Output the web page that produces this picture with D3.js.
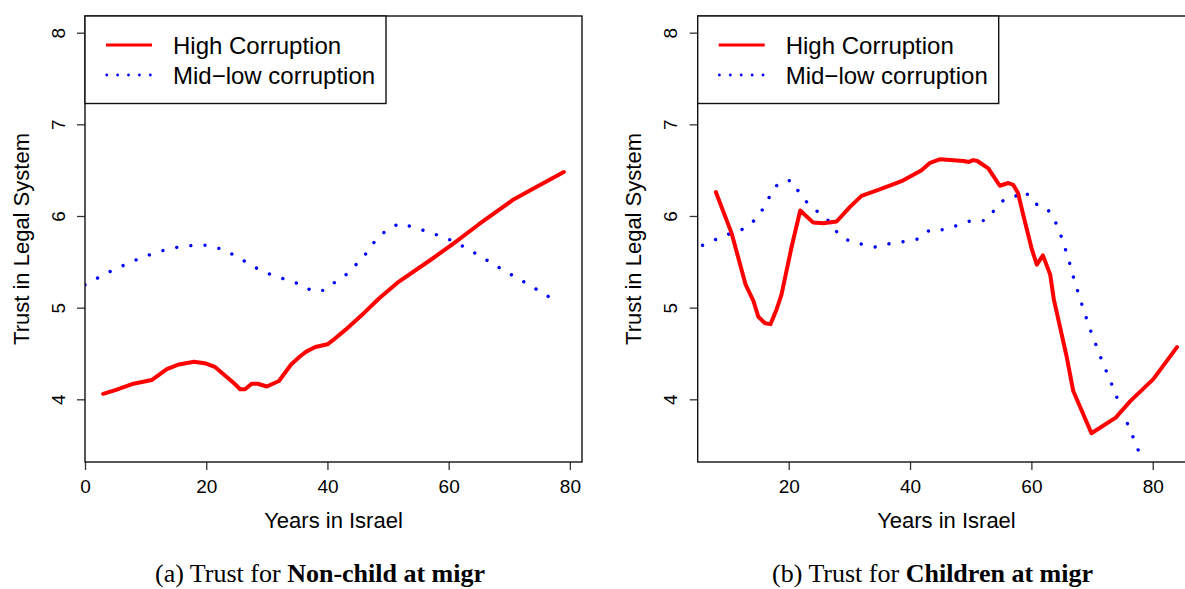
<!DOCTYPE html>
<html>
<head>
<meta charset="utf-8">
<script src="https://cdn.jsdelivr.net/npm/d3@7"></script>
<style>
  html, body { margin: 0; padding: 0; background: #fff; }
  svg { display: block; }
</style>
</head>
<body>
<svg id="chart" width="1185" height="589"></svg>
<script>
// ---- Data ----
const seriesNames = ["High Corruption", "Mid\u2212low corruption"];
const xTicksA = [0, 20, 40, 60, 80];
const xTicksB = [20, 40, 60, 80];
const yTicks = [4, 5, 6, 7, 8];

// Panel (a): Non-child at migration
const aHighX = [3, 5, 8, 11, 13.5, 15.5, 18, 20, 21.5, 24.5, 25.6, 26.4, 27.5, 28.5, 30, 32, 34, 35.5, 36.5, 38, 40, 41, 43, 46, 48.5, 51.5, 57, 61, 65, 70.7, 74, 79];
const aHighY = [4.06, 4.10, 4.17, 4.21, 4.33, 4.38, 4.41, 4.39, 4.35, 4.18, 4.11, 4.11, 4.17, 4.17, 4.14, 4.20, 4.38, 4.47, 4.52, 4.57, 4.60, 4.65, 4.76, 4.94, 5.10, 5.27, 5.52, 5.71, 5.91, 6.18, 6.30, 6.48];
const aLowX = [0, 4, 8, 12, 16, 18, 20, 22.5, 25, 28, 31, 34, 36, 37.5, 39.5, 41.5, 43.5, 46.5, 48, 50, 52, 54, 57, 61, 65, 69, 73, 78];
const aLowY = [5.25, 5.39, 5.51, 5.61, 5.67, 5.68, 5.68, 5.64, 5.56, 5.44, 5.35, 5.29, 5.24, 5.18, 5.19, 5.29, 5.38, 5.60, 5.74, 5.86, 5.92, 5.88, 5.82, 5.72, 5.57, 5.41, 5.26, 5.06];

// Panel (b): Children at migration
const bHighX = [8, 10.6, 12.9, 14.2, 15, 16.1, 17, 18, 18.8, 20.5, 21.9, 24, 25.7, 27.9, 30.1, 32, 35, 38.6, 41.9, 43.3, 45, 48.8, 49.7, 50.4, 51.1, 52.9, 54.8, 56.2, 57, 57.8, 58.7, 60.1, 60.9, 61.9, 63.1, 63.7, 65.8, 66.9, 69.9, 73.9, 76.3, 80.1, 84];
const bHighY = [6.26, 5.81, 5.25, 5.07, 4.90, 4.83, 4.82, 4.98, 5.14, 5.67, 6.06, 5.93, 5.92, 5.94, 6.10, 6.22, 6.29, 6.38, 6.50, 6.58, 6.62, 6.60, 6.59, 6.61, 6.60, 6.52, 6.33, 6.36, 6.34, 6.25, 6.00, 5.63, 5.47, 5.57, 5.36, 5.09, 4.47, 4.09, 3.63, 3.80, 3.98, 4.22, 4.57];
const bLowX = [5.8, 8.2, 10.4, 12.6, 14.5, 15.8, 17, 18.3, 20.4, 21.7, 23.1, 24.9, 26.7, 28.1, 30.1, 32.2, 34.4, 36.7, 39, 41.4, 43.3, 45.6, 47.9, 50.1, 52.4, 54, 55.5, 57.5, 59, 60.3, 62.5, 63.8, 64.7, 65.5, 66.2, 66.8, 67.5, 68.2, 69.7, 71.4, 73.2, 75, 76.8, 78];
const bLowY = [5.68, 5.75, 5.81, 5.86, 5.96, 6.08, 6.23, 6.36, 6.39, 6.26, 6.14, 6.04, 5.94, 5.81, 5.72, 5.69, 5.66, 5.70, 5.72, 5.75, 5.85, 5.85, 5.90, 5.95, 5.95, 6.07, 6.18, 6.22, 6.27, 6.14, 6.09, 5.96, 5.82, 5.66, 5.51, 5.36, 5.21, 5.06, 4.76, 4.46, 4.17, 3.87, 3.58, 3.38];

const captionA = ["(a) Trust for ", "Non-child at migr"];
const captionB = ["(b) Trust for ", "Children at migr"];
const xTitle = "Years in Israel";
const yTitle = "Trust in Legal System";

// ---- Drawing ----
const svg = d3.select("#chart");
const SANS = "'Liberation Sans', Arial, Helvetica, sans-serif";
const SERIF = "'Liberation Serif', 'Times New Roman', serif";

function panel(opts) {
  const {id, left, right, top, bottom, xDomain, xTicks, hx, hy, lx, ly, caption, captionX} = opts;
  const g = svg.append("g");
  const x = d3.scaleLinear().domain(xDomain).range([left, right]);
  const y = d3.scaleLinear().domain([3.316, 8.182]).range([bottom, top]);

  g.append("clipPath").attr("id", "clip" + id)
    .append("rect").attr("x", left).attr("y", top).attr("width", right - left).attr("height", bottom - top);

  const line = d3.line().x(d => x(d[0])).y(d => y(d[1]));
  const plot = g.append("g").attr("clip-path", `url(#clip${id})`);

  plot.append("path")
    .datum(lx.map((v, i) => [v, ly[i]]))
    .attr("d", line)
    .attr("fill", "none")
    .attr("stroke", "#0000ff")
    .attr("stroke-width", 3.4)
    .attr("stroke-linecap", "round")
    .attr("stroke-dasharray", "0.01 14.2");

  plot.append("path")
    .datum(hx.map((v, i) => [v, hy[i]]))
    .attr("d", line)
    .attr("fill", "none")
    .attr("stroke", "#ff0000")
    .attr("stroke-width", 4)
    .attr("stroke-linejoin", "round")
    .attr("stroke-linecap", "round");

  // x axis
  const xAxis = d3.axisBottom(x).tickValues(xTicks).tickSize(8).tickPadding(6).tickFormat(d3.format("d"));
  const xa = g.append("g").attr("transform", `translate(0,${bottom})`).call(xAxis);
  xa.select(".domain").remove();
  xa.selectAll(".tick line").attr("stroke", "#333").attr("stroke-width", 1.3);
  xa.selectAll(".tick text").attr("font-family", SANS).attr("font-size", 19).attr("fill", "#000")
    .attr("dy", null).attr("y", 31);

  // y axis
  const yAxis = d3.axisLeft(y).tickValues(yTicks).tickSize(8).tickFormat(d3.format("d"));
  const ya = g.append("g").attr("transform", `translate(${left},0)`).call(yAxis);
  ya.select(".domain").remove();
  ya.selectAll(".tick line").attr("stroke", "#333").attr("stroke-width", 1.3);
  ya.selectAll(".tick text").attr("font-family", SANS).attr("font-size", 19).attr("fill", "#000")
    .attr("text-anchor", "middle").attr("dy", null).attr("x", null)
    .attr("transform", "translate(-20.5,0) rotate(-90)");

  // box
  g.append("rect").attr("x", left).attr("y", top).attr("width", right - left).attr("height", bottom - top)
    .attr("fill", "none").attr("stroke", "#111").attr("stroke-width", 1.4);

  // axis titles
  g.append("text").attr("x", (left + right) / 2).attr("y", 528)
    .attr("text-anchor", "middle").attr("font-family", SANS).attr("font-size", 22).text(xTitle);
  g.append("text").attr("transform", `translate(${left - 56.5},${(top + bottom) / 2}) rotate(-90)`)
    .attr("text-anchor", "middle").attr("font-family", SANS).attr("font-size", 22).text(yTitle);

  // legend
  const lg = g.append("g");
  lg.append("rect").attr("x", left).attr("y", top).attr("width", 301).attr("height", 87.5)
    .attr("fill", "#fff").attr("stroke", "#111").attr("stroke-width", 1.4);
  lg.append("line").attr("x1", left + 21).attr("x2", left + 67).attr("y1", 45).attr("y2", 45)
    .attr("stroke", "#ff0000").attr("stroke-width", 3.2);
  lg.append("line").attr("x1", left + 21.7).attr("x2", left + 67).attr("y1", 75).attr("y2", 75)
    .attr("stroke", "#0000ff").attr("stroke-width", 2.8).attr("stroke-linecap", "round")
    .attr("stroke-dasharray", "0.01 10.9");
  lg.append("text").attr("x", left + 88).attr("y", 53.5).attr("font-family", SANS).attr("font-size", 24)
    .text(seriesNames[0]);
  lg.append("text").attr("x", left + 88).attr("y", 83.5).attr("font-family", SANS).attr("font-size", 24)
    .text(seriesNames[1]);

  // caption
  const cap = g.append("text").attr("x", captionX).attr("y", 582).attr("text-anchor", "middle")
    .attr("font-family", SERIF).attr("font-size", 26);
  cap.append("tspan").text(caption[0]);
  cap.append("tspan").attr("font-weight", "bold").text(caption[1]);
}

panel({id: "a", left: 85, right: 582, top: 16, bottom: 462, xDomain: [0, 82], xTicks: xTicksA,
  hx: aHighX, hy: aHighY, lx: aLowX, ly: aLowY, caption: captionA, captionX: 320});
panel({id: "b", left: 697.7, right: 1195.2, top: 16, bottom: 462, xDomain: [5, 87], xTicks: xTicksB,
  hx: bHighX, hy: bHighY, lx: bLowX, ly: bLowY, caption: captionB, captionX: 932.5});
</script>
</body>
</html>
